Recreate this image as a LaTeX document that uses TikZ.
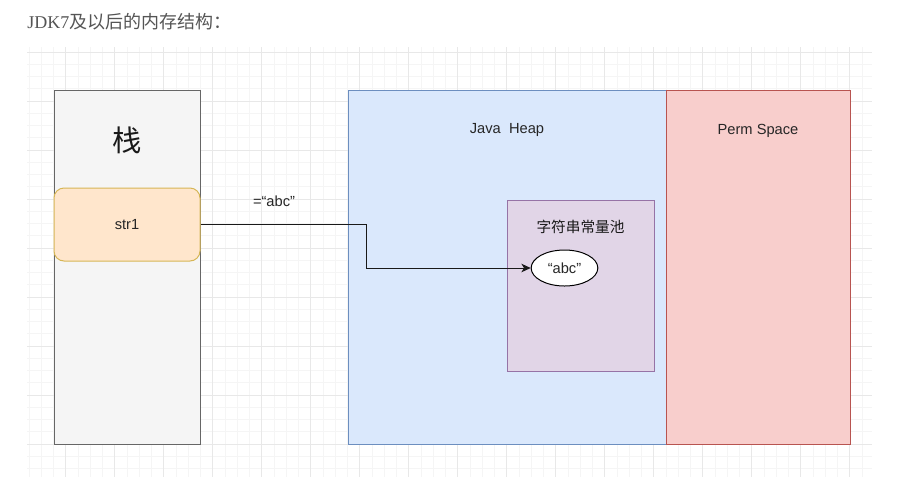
\documentclass[tikz,border=0pt]{standalone}
\usepackage{fontspec}
\setmainfont{Liberation Sans}
\newfontfamily\cjk{Noto Sans CJK SC}
\newfontfamily\titleserif{Liberation Serif}
\usetikzlibrary{positioning, arrows.meta, shapes.geometric}
\definecolor{stackfill}{HTML}{F5F5F5}
\definecolor{stackline}{HTML}{666666}
\definecolor{varfill}{HTML}{FFE6CC}
\definecolor{varline}{HTML}{D6B656}
\definecolor{heapfill}{HTML}{DAE8FC}
\definecolor{heapline}{HTML}{6C8EBF}
\definecolor{permfill}{HTML}{F8CECC}
\definecolor{permline}{HTML}{B85450}
\definecolor{poolfill}{HTML}{E1D5E7}
\definecolor{poolline}{HTML}{9673A6}
\definecolor{titlegray}{HTML}{555555}

\begin{document}
\begin{tikzpicture}[
		x=0.75pt, y=-0.75pt,
		area/.style={draw, rectangle, line width=0.75pt, inner sep=0pt},
		label/.style={font=\fontsize{11}{13}\selectfont, text=black!85},
		arrow/.style={-{Stealth[length=7pt, width=6.5pt, inset=2pt]}, line width=0.75pt, black!90},
		minorgrid/.style={draw=black!4, line width=0.5pt},
		majorgrid/.style={draw=black!9, line width=0.5pt}
		]
		
		% Canvas
		\useasboundingbox[fill=white] (0,0) rectangle (910,490);
		\begin{scope}
			\clip (27,47) rectangle (872,477);
			\foreach \i in {0,...,68}
				\draw[minorgrid] ({28.95+12.25*\i},47) -- ({28.95+12.25*\i},477);
			\foreach \i in {0,...,35}
				\draw[minorgrid] (27,{39.75+12.25*\i}) -- (872,{39.75+12.25*\i});
			\foreach \i in {0,...,17}
				\draw[majorgrid] ({65.7+49*\i},47) -- ({65.7+49*\i},477);
			\foreach \i in {0,...,9}
				\draw[majorgrid] (27,{52+49*\i}) -- (872,{52+49*\i});
		\end{scope}
		
		% Title
		\node[anchor=west, inner sep=0pt, text=titlegray, font=\fontsize{13.5}{16}\selectfont] (title) at (27,22)
			{\titleserif JDK7\cjk 及以后的内存结构：};
		
		% Define Nodes
		\node[area, fill=stackfill, draw=stackline, minimum width=109.5pt, minimum height=265.5pt] (stack) at (127,267) {};
		\node[below=28pt of stack.north, inner sep=0pt, text=black!90, font=\cjk\fontsize{22}{25}\selectfont] (stacklabel) {栈};
		
		\node[area, fill=varfill, draw=varline, rounded corners=7.5pt, minimum width=109.5pt, minimum height=54.75pt, label] (str1) at (127,224.5) {str1};
		
		\node[area, fill=heapfill, draw=heapline, minimum width=238.5pt, minimum height=265.5pt] (heap) at (507,267) {};
		\node[below=25.5pt of heap.north, label, inner sep=0pt] (heaplabel) {Java\ \ Heap};
		
		\node[area, fill=permfill, draw=permline, minimum width=138pt, minimum height=265.5pt] (perm) at (758,267) {};
		\node[below=25.5pt of perm.north, label, inner sep=0pt] (permlabel) {Perm Space};
		
		\node[area, fill=poolfill, draw=poolline, minimum width=110.25pt, minimum height=128.25pt] (pool) at (580.5,285.5) {};
		\node[below=15pt of pool.north, inner sep=0pt, text=black!90, font=\cjk\fontsize{11}{13}\selectfont] (poollabel) {字符串常量池};
		
		\node[ellipse, draw, fill=white, line width=0.75pt, minimum width=50pt, minimum height=27pt, inner sep=0pt, label] (abc) at (564.5,268) {“abc”};
		
		% Reference from the stack into the pool
		\draw[arrow] (str1.east) -- ++(166,0) |- (abc.west);
		\node[label, inner sep=0pt] (assign) at (274,201) {=“abc”};
		
	\end{tikzpicture}
\end{document}
